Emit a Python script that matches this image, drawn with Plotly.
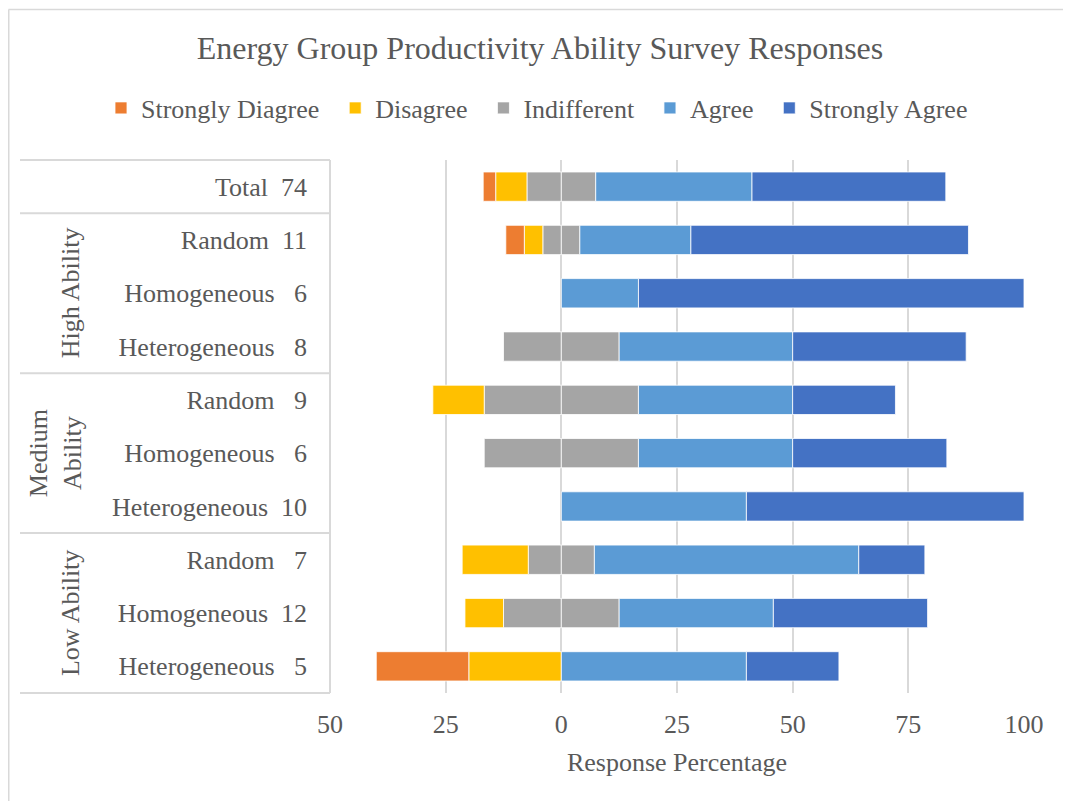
import plotly.graph_objects as go

# ---------------- data ----------------
groups = ["", "High Ability", "High Ability", "High Ability",
          "Medium Ability", "Medium Ability", "Medium Ability",
          "Low Ability", "Low Ability", "Low Ability"]
group_text = {"High Ability": "High Ability",
              "Medium Ability": "Medium<br>Ability",
              "Low Ability": "Low Ability"}
names = ["Total", "Random", "Homogeneous", "Heterogeneous",
         "Random", "Homogeneous", "Heterogeneous",
         "Random", "Homogeneous", "Heterogeneous"]
counts = [74, 11, 6, 8, 9, 6, 10, 7, 12, 5]

strongly_disagree = [2.70, 4.0, 0, 0, 0, 0, 0, 0, 0, 20.0]
disagree = [6.76, 4.0, 0, 0, 11.11, 0, 0, 14.29, 8.33, 20.0]
indifferent = [14.86, 8.0, 0, 25.0, 33.33, 33.33, 0, 14.29, 25.0, 0]
agree = [33.78, 24.0, 16.67, 37.5, 33.33, 33.33, 40.0, 57.14, 33.33, 40.0]
strongly_agree = [41.89, 60.0, 83.33, 37.5, 22.22, 33.33, 60.0, 14.29, 33.33, 20.0]

x_ticks = [-50, -25, 0, 25, 50, 75, 100]

# ---------------- style ----------------
FONT = "Liberation Serif, Times New Roman, serif"
TXT = "#595959"
LINE = "#d9d9d9"
colors = {"sd": "#ED7D31", "d": "#FFC000", "i": "#A5A5A5", "a": "#5B9BD5", "sa": "#4472C4"}
NB = chr(160)
PAD = NB + "\u2006"   # small trailing gap between legend entries

n = len(names)
pos = list(range(n))
labels = [f"{nm}{NB * (2 if c >= 10 else 3)}{c}" for nm, c in zip(names, counts)]


def nz(vals, sign=1.0):
    return [sign * v if v else None for v in vals]


bar_line = dict(color="rgba(255,255,255,0.8)", width=1)
fig = go.Figure()
# stacking order outward from zero (relative mode)
fig.add_trace(go.Bar(y=pos, x=nz([v / 2 for v in indifferent], -1), orientation="h",
                     name="Indifferent" + PAD, legendgroup="i", showlegend=False,
                     marker=dict(color=colors["i"], line=bar_line)))
fig.add_trace(go.Bar(y=pos, x=nz([v / 2 for v in indifferent]), orientation="h",
                     name="Indifferent" + PAD, legendgroup="i", legendrank=3,
                     marker=dict(color=colors["i"], line=bar_line)))
fig.add_trace(go.Bar(y=pos, x=nz(disagree, -1), orientation="h",
                     name="Disagree" + PAD, legendrank=2,
                     marker=dict(color=colors["d"], line=bar_line)))
fig.add_trace(go.Bar(y=pos, x=nz(strongly_disagree, -1), orientation="h",
                     name="Strongly Diagree" + PAD, legendrank=1,
                     marker=dict(color=colors["sd"], line=bar_line)))
fig.add_trace(go.Bar(y=pos, x=nz(agree), orientation="h",
                     name="Agree" + PAD, legendrank=4,
                     marker=dict(color=colors["a"], line=bar_line)))
fig.add_trace(go.Bar(y=pos, x=nz(strongly_agree), orientation="h",
                     name="Strongly Agree", legendrank=5,
                     marker=dict(color=colors["sa"], line=bar_line)))

# page body has an 8px margin: work in target-pixel coordinates shifted by OFF
OFF = 8
W, H = 1071 - 2 * OFF, 809 - 2 * OFF
PL, PR, PT, PB = 330 - OFF, 1024 - OFF, 160 - OFF, 693 - OFF   # plot box in figure px
ML, MR, MT, MB = PL, W - PR, PT, H - PB
pw, ph = PR - PL, PB - PT


def px_x(p):  # target pixel -> paper x
    return (p - OFF - ML) / pw


def px_y(p):  # target pixel -> paper y
    return (PB - (p - OFF)) / ph


def idx_y(b):
    return (n - 0.5 - b) / n


shapes = []
# table separators
bounds = [-0.5]
for k in range(1, n):
    if groups[k] != groups[k - 1]:
        bounds.append(k - 0.5)
bounds.append(n - 0.5)
for b in bounds:
    shapes.append(dict(type="line", xref="paper", yref="paper", x0=px_x(20), x1=0,
                       y0=idx_y(b), y1=idx_y(b), line=dict(color=LINE, width=2), layer="below"))
shapes.append(dict(type="line", xref="paper", yref="paper", x0=0, x1=0, y0=0, y1=1,
                   line=dict(color=LINE, width=2), layer="below"))
# outer chart border (top / left)
shapes.append(dict(type="line", xref="paper", yref="paper", x0=px_x(8.5), x1=px_x(1100),
                   y0=px_y(9.5), y1=px_y(9.5), line=dict(color=LINE, width=1.5)))
shapes.append(dict(type="line", xref="paper", yref="paper", x0=px_x(8.75), x1=px_x(8.75),
                   y0=px_y(9.5), y1=px_y(900), line=dict(color=LINE, width=1.5)))

annotations = []
seen = []
for g in groups:
    if g and g not in seen:
        seen.append(g)
for g in seen:
    idxs = [k for k, gg in enumerate(groups) if gg == g]
    mid = sum(idxs) / len(idxs)
    xc = 55 if "<br>" in group_text[g] else 70
    annotations.append(dict(text=group_text[g], x=px_x(xc), xref="paper", y=mid, yref="y",
                            textangle=-90, showarrow=False, xanchor="center", yanchor="middle",
                            font=dict(family=FONT, size=26, color=TXT)))

fig.update_layout(
    width=W, height=H,
    margin=dict(l=ML, r=MR, t=MT, b=MB, pad=0, autoexpand=False),
    paper_bgcolor="white", plot_bgcolor="white",
    barmode="relative", bargap=0.45,
    font=dict(family=FONT, size=26, color=TXT),
    title=dict(text="Energy Group Productivity Ability Survey Responses",
               x=(540 - OFF) / W, xref="container", xanchor="center",
               y=1 - (48 - OFF) / H, yref="container", yanchor="middle",
               font=dict(family=FONT, size=32, color=TXT)),
    legend=dict(orientation="h", x=px_x(126 - 25), xanchor="left", y=px_y(108), yanchor="middle",
                font=dict(family=FONT, size=26, color=TXT), traceorder="normal",
                bgcolor="rgba(0,0,0,0)"),
    xaxis=dict(range=[-50, 100], tickmode="array", tickvals=x_ticks,
               ticktext=[str(abs(v)) for v in x_ticks],
               showgrid=True, gridcolor=LINE, gridwidth=2, zeroline=False, showline=False,
               ticks="", ticklabelstandoff=13, automargin=False,
               title=dict(text="Response Percentage", standoff=14,
                          font=dict(family=FONT, size=26, color=TXT))),
    yaxis=dict(range=[n - 0.5, -0.5], tickmode="array", tickvals=pos, ticktext=labels,
               showgrid=False, zeroline=False, showline=False, ticks="",
               ticklabelstandoff=22, automargin=False),
    shapes=shapes, annotations=annotations,
)

fig.write_html("out.html")
